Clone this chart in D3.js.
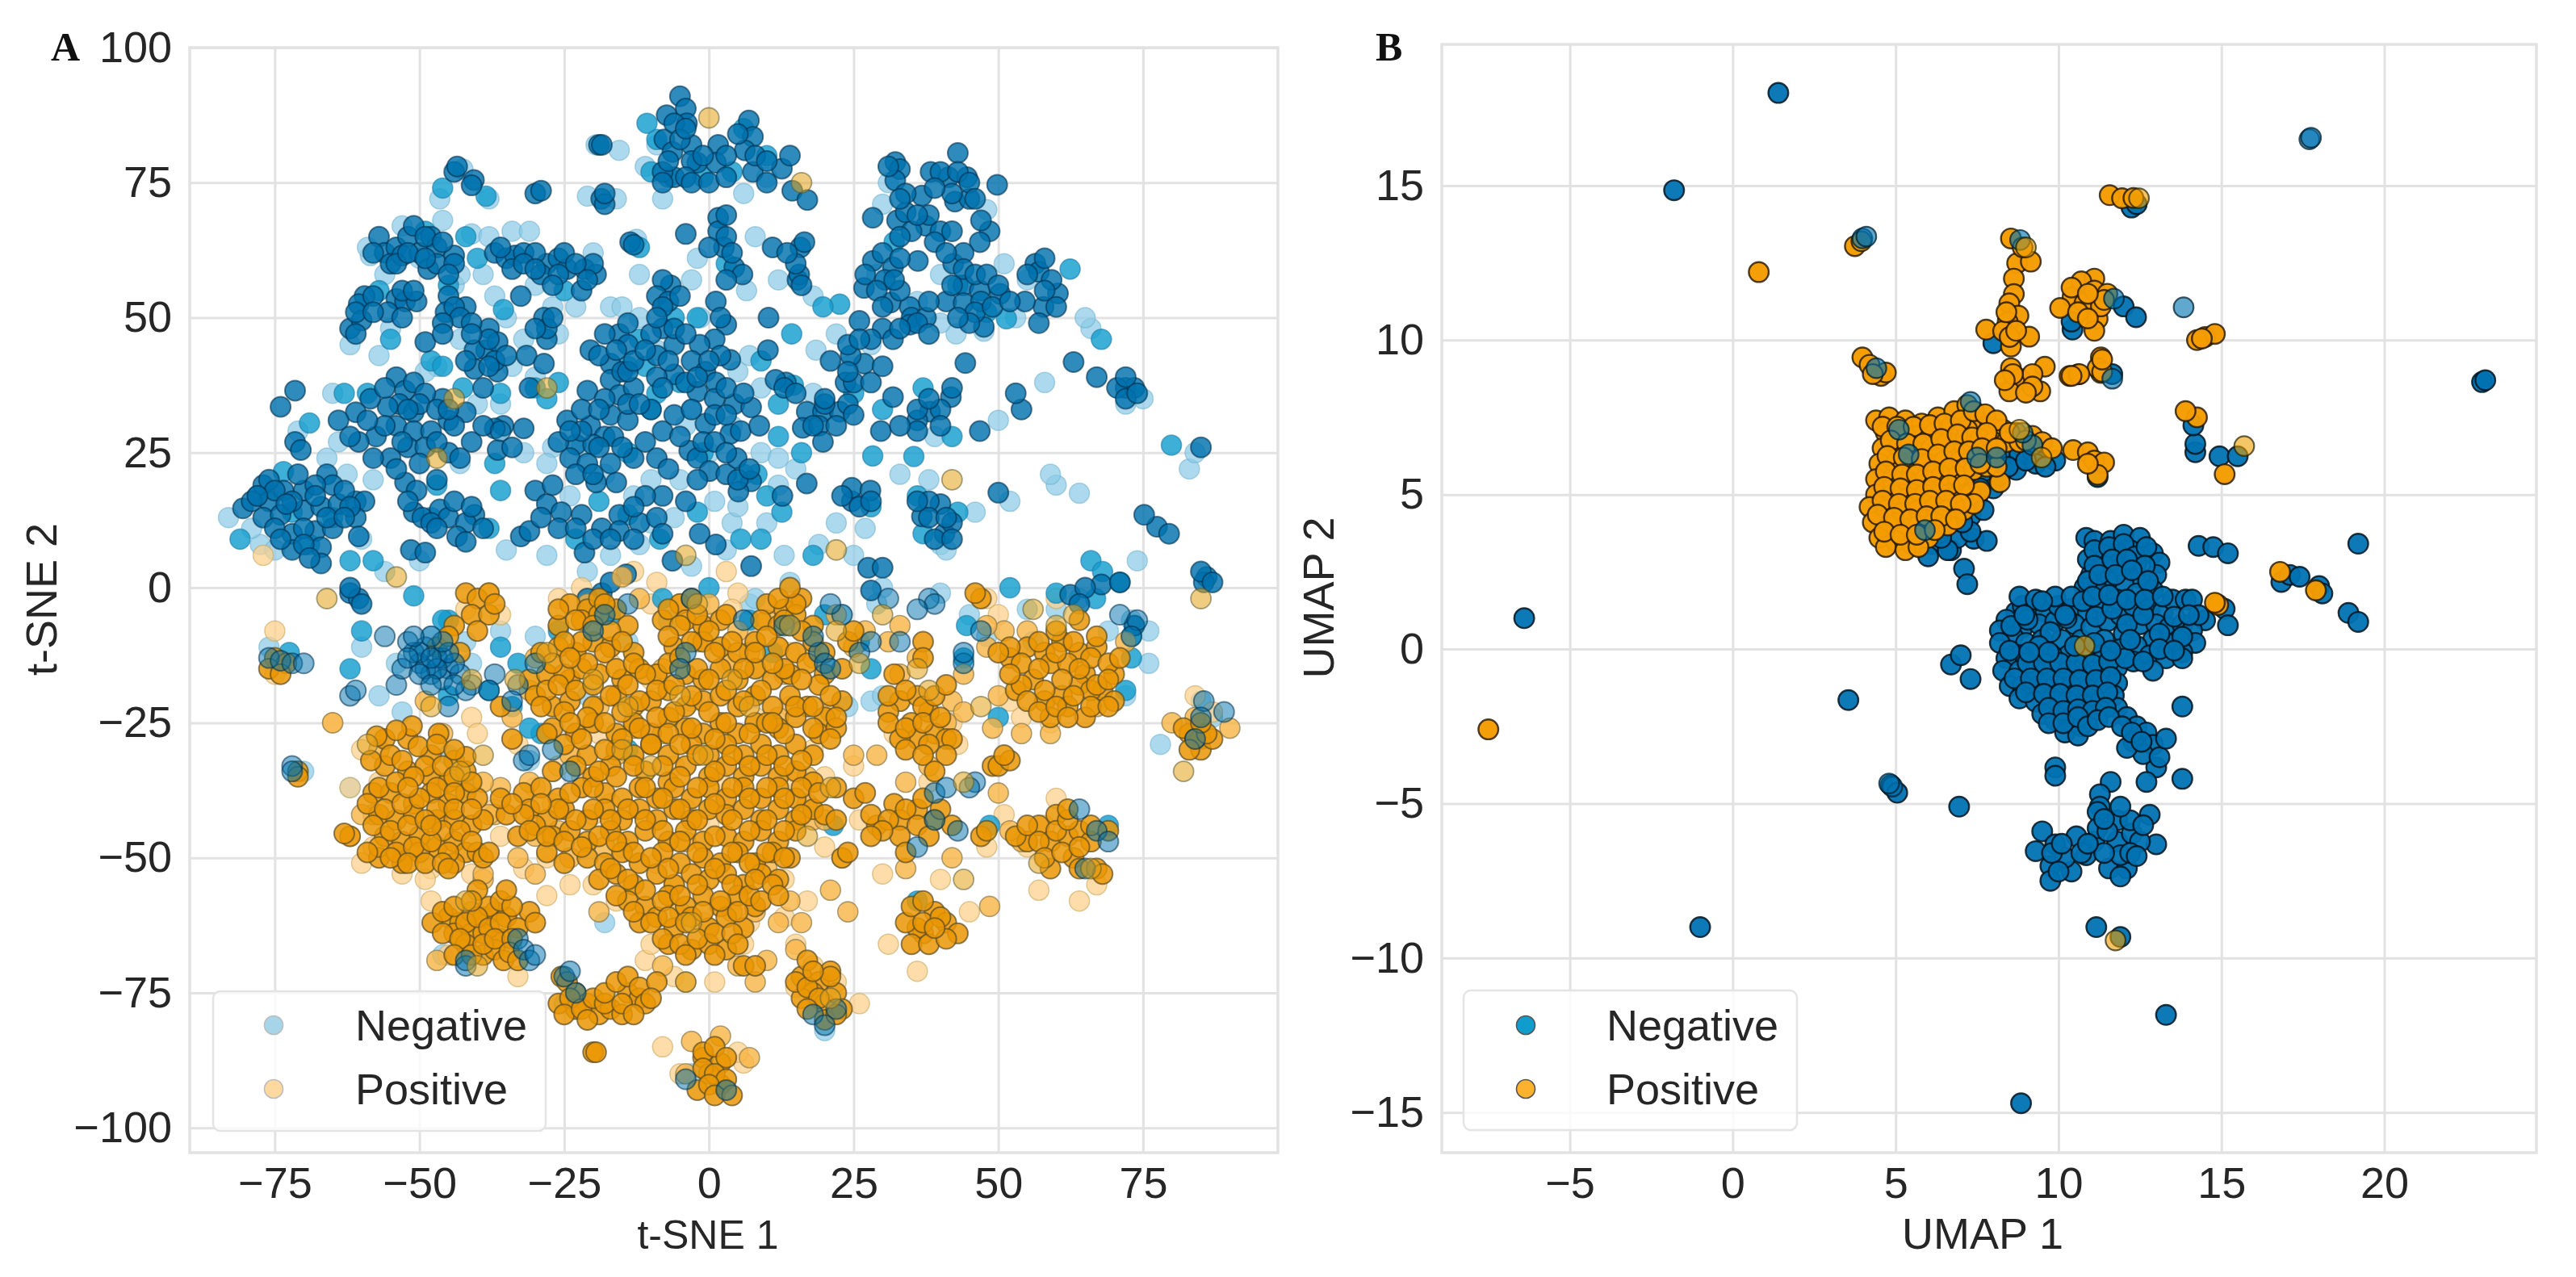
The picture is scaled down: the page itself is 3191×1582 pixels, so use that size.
<!DOCTYPE html>
<html><head><meta charset="utf-8">
<script src="https://cdn.jsdelivr.net/npm/d3@7/dist/d3.min.js"></script>
<style>html,body{margin:0;padding:0;background:#fff}svg{display:block;filter:blur(.7px)}text{fill:#262626}</style>
</head><body><svg id="c" width="3191" height="1582"></svg>
<script>
const seriesLabels=["Negative","Positive"];
const tsneXTicks=[-75,-50,-25,0,25,50,75];
const tsneYTicks=[-100,-75,-50,-25,0,25,50,75,100];
const umapXTicks=[-5,0,5,10,15,20];
const umapYTicks=[-15,-10,-5,0,5,10,15];

const tsneNegFaint=[[-77.5,8],[-62.5,21],[-60,9],[-71,29],[-75,7],[-66,24],[-58,20],[-53,67],[-58.5,61.5],[-47,41],[-57,43],[-43,46],[-44,56],[-37,54],[-35,50],[-39,58],[-41,65.5],[-34,66],[-31,66],[-27,52],[-26,47],[-32,46],[-34,41],[-30,39],[-36,34],[-27,26],[-28,23],[-22,26],[-17,52],[-12,50],[-9,44],[-3,57],[-1.5,50],[6.5,55],[5,40],[7,43],[-3,33],[4,30],[0,25],[9,25],[12,24],[15,22],[12,19],[1,16],[4,12],[-6,13],[-10,12],[-12,8],[-21,3],[-17,6],[22,47],[18.5,44],[24,41],[31,75],[30,71],[29,58],[40,58],[51,60],[42.7,47],[47.5,47.5],[53,50],[66,48],[75,35],[72,34],[60,19],[59,21],[64,17.5],[52,16],[83,22],[84,25],[74,5],[73,-6],[69,-8],[55,-4],[-50,5],[-56,3],[-60,-11],[-42,-10],[-36,-8],[-30,-9],[-26,-7],[-14,-10],[-7,-6],[7,-3],[14,1],[25,6],[30,0],[40,8],[40,-1],[45,-5],[60,-4],[64,-2],[76,-8],[76,-14],[85,-21],[87,-24],[78,-29],[-41,-14],[-48,-9],[-57,-20],[-53,-23],[-45,-31],[-31,-32],[-21,-20],[23,-5],[29,-3],[28,-21],[24,-22],[30,-20],[48,-9],[56,-10],[72,-20],[-62,-37],[-42,-37],[-46,-68],[-34,-67],[-25,-77],[20,-82],[-3,-90],[-54,-14],[-18,-62],[8,-2],[-70,-34],[-76,-11],[-83,13],[-79,11],[-59,63],[-56,58],[-50,61],[-46,68],[-43,58],[-38,65],[-30,56],[-20,62],[-23,52],[-62,45],[-55,48],[-65,36],[-64,27],[-49,40],[-40,34],[-43,23],[-32,25],[-24,17],[-18,21],[-13,17],[-10,20],[-5,20],[-3,4],[3,7],[10,12],[13,6],[19,8],[22,12],[27,11],[33,21],[38,20],[46,14],[41,7],[-8,72],[-9,82],[10,76],[6,73],[-2,61],[8,65],[12,57],[-12,58],[-4,30],[9,37],[18,36],[28,45],[39,28],[50,31],[58,38],[36,53],[40,49],[55,57],[65,50],[48,70],[-15,52],[18,54],[5,15],[-28,6],[-35,7],[-46.5,72],[-42.5,77.5],[-38,72],[-19.5,82],[-15.5,81],[-16,72],[-21,72.5],[-12.5,64.5],[-11,78]];
const tsneNegMid=[[-81,9],[-73.5,21.5],[-62,5],[-58,5],[-69,30.5],[-59,36],[-45,-6],[-51,-1.5],[-48,42],[-42.5,37],[-37,23],[-36,18],[-30,37],[-35.5,51.5],[-40,61],[-42,65],[-49,66],[-45,56],[-25,55],[22.6,52.5],[14.3,47],[62.4,59],[51.4,49.8],[67.8,46],[79.9,26.4],[28.3,24.4],[35.4,24.3],[36,17],[14.6,37.5],[8.3,21],[-1,25],[12.6,14],[18,6],[9,9],[-8.5,9],[-14,13.5],[52,0],[66,5],[68,3],[71,1],[66.8,-2],[60,-1],[-60,-8],[-45,-20],[-72.5,-12],[-34,-22],[-29,-27],[-26,-8],[-17,-5],[-8,-2],[0,0],[7,-6],[20,-5],[28,-15],[26,-10],[44,-13],[50,-24],[73,-13],[73,-9],[72,-19],[44.5,-7],[-46,-6],[-48,13],[-65,13],[-72,14],[-38,11],[-23,9],[19.7,52],[32,64],[43,56],[48,51],[-14,41],[-10,33],[-5,38],[6,21],[-2,14],[5.5,9],[-38,-19],[-33,-14],[-31,-26],[-14,-30],[11,-12],[21.5,-44],[48.5,-44],[69,-44],[36,-58],[-62,-15],[-36,-11],[-46,74],[-38.5,72.5],[-7,76],[-10,77],[-1,76],[4,77],[10,80],[-9,83],[6,85],[3,60],[-12,46],[-11,41],[-2,50],[-6,50],[-9,36],[9,42],[12,34],[25,36],[30,33],[37,37],[42,28],[12,28],[16,25],[10,17],[28,15],[37,10],[43,14],[-69,8],[-78,17],[-55,46],[-57,55],[-46,41],[-63,36],[-47,19],[-36,36],[-26,38],[-28,35],[-14,25],[-19,16],[-10.7,86],[-12,63]];
const tsneNegCore=[[-80.5,14.7],[-77,19],[-76,16],[-77,13],[-74,13.5],[-73.5,18],[-70,18],[-70,14.3],[-66,21],[-65,19],[-68,19],[-67,15],[-64,15.5],[-61,16],[-59.5,16],[-61,13],[-72,10],[-68,10.5],[-72,7],[-67,7.5],[-67,4.5],[-60.5,9.5],[-76,20],[-75,11],[-71,21],[-65,11],[-57,65],[-56,62],[-54,63],[-52,65],[-55,60],[-53,61.5],[-51,67],[-50,62],[-48,65],[-47,63],[-48.5,59],[-47,60],[-44,61.5],[-44,60],[-37,62],[-35,61],[-33.5,61.5],[-32,62],[-28,60],[-26,61],[-24.5,59],[-21.5,59],[-22,55],[-19.5,58],[-20,60],[-59.5,54],[-60.5,52.5],[-58,54],[-62,48],[-60,49.5],[-54,53.5],[-52.5,53],[-55.5,51],[-50.5,53],[-45,54],[-45.5,51],[-42,52],[-44,52],[-49,45.5],[-32.5,54],[-38,48],[-38.5,44],[-36.5,45.5],[-40.5,44],[-38,46],[-40.5,40.5],[-36.5,40],[-39,37],[-28.5,50],[-28,46],[-31.5,43],[-28.5,41.5],[-31,37],[-54,39],[-52.5,36.5],[-53.5,34],[-51,32.5],[-55.5,33.5],[-58.5,35],[-61,32.5],[-64,31],[-57.5,28],[-60.5,27],[-54,30],[-51,29],[-48,29],[-52,26],[-55,24],[-45,25],[-42,32.5],[-45,31],[-46,35],[-41,27],[-36.5,25.5],[-35.5,30],[-37,29.5],[-32,29.5],[-52.5,19.5],[-50.5,18],[-51,14],[-49.5,13],[-46.5,14.5],[-45,13],[-40.5,13.5],[-42,12],[-43.5,9.5],[-42,8.5],[-51.5,7],[-49,6.5],[-62,-1],[-60.5,-2],[-71.5,36.5],[-74,33.5],[-71.5,27],[-70.5,25.5],[-20.5,44],[-17,41.5],[-15.5,47],[-14,45],[-17,38.5],[-15,40],[-21,36.5],[-15.5,35.7],[-13,37],[-24.5,31],[-20.5,30],[-22,33],[-17,32],[-14,31],[-18,28],[-23,26.5],[-20,26.5],[-16.5,28],[-13,24],[-24,24],[-21,23],[-23,21],[-19.5,19.5],[-16,19.5],[-30,18],[-28,15.5],[-25.5,14],[-22,13.5],[-18.5,11],[-15.5,13.5],[-15.5,10.5],[-12,12],[-9,13],[-8,10],[-32.5,9.5],[-31,10.5],[-21.5,6.5],[-14.3,2.5],[-18.5,-1],[-5,91],[-4,88.7],[-7.3,87.5],[-3.8,86],[-7.7,83],[-6.3,80.7],[-3,82],[1.6,82],[6.9,86.5],[7.6,83.5],[6.2,81],[1.2,78.7],[-2,78.7],[-6,76],[-8,77],[7.6,77],[12.6,77.6],[14.4,73.5],[17,71.8],[1.6,68.5],[1.6,66],[2.6,63],[3,65],[4.4,59.3],[5.8,58],[15.8,63],[16.5,64],[15.3,57],[15.6,58],[-4,65.5],[-6.6,56],[-8,57],[-9,54],[-7,53],[-8,48],[-10,47],[-6,45],[-9,43],[1.2,53],[3,48.7],[1,46],[-1.6,45],[-3,42],[-6,39.5],[-0.6,40],[1.2,38],[-2,36.3],[1,35],[3.7,42.2],[10.2,44],[10.3,50],[4.4,34],[7.3,33.4],[-0.6,30.4],[3.7,28.5],[5.5,29],[8.7,30],[-3.4,25.4],[-2,24],[0.1,21.6],[3,21],[4.8,24],[7.3,19.7],[5.1,17.8],[-1.6,10],[1.2,8],[-6.3,5],[7.3,4],[12.7,17],[16.9,19.3],[13.3,38],[11.5,38.5],[21,42],[23.6,38],[26.8,41.5],[24.5,43],[26,49.4],[16.9,32.6],[19.7,32.6],[22.6,32.6],[24,34],[16.2,29.6],[19,30],[19.7,27],[31.8,35.3],[38.2,32.6],[36,31],[41.8,35.3],[40,33],[29.7,29],[46.8,29],[54,33],[53,36],[63,41.8],[67,39],[72,37],[73.5,37],[70.5,37],[24.7,16],[24.7,18.5],[27.9,18],[40,15.5],[36.8,13.2],[40.7,10],[38,16],[42,12],[50,17.6],[77.4,11.3],[79.5,10],[75.2,13.5],[27.5,3.7],[30,3.7],[28,-0.5],[86,2],[85.5,1],[67.8,0.6],[62.4,-1.3],[73.5,-7],[85,26],[32.2,78.8],[33,77.5],[32.2,75.4],[43,80.5],[38.3,77],[41.4,76],[44.6,76],[49.8,74.6],[36.8,72.6],[42.5,71.5],[45,72],[32.5,68],[34,69.5],[28.3,68.5],[37.5,67],[40,66],[38,69],[48.5,66],[46.8,64],[42.2,60],[44,62],[28.3,60.5],[30,62],[31.8,59.3],[30.4,57],[36.1,60.5],[31.4,52.8],[34.7,52],[33,55],[35,50],[44,56],[46.8,55],[50.3,54.4],[41,53],[44,52.7],[47,53],[47.5,48.3],[57.8,52],[60.3,54.5],[54.6,53],[56.4,60],[57,58.5],[59.2,57],[30,48],[31.8,46],[34.7,48.7],[37.5,50],[26.8,55.5],[44.3,41.6],[-10,33],[-8,29],[-6,32],[-11,27],[-9,24],[-7,22],[-4,16],[-8,17],[-11,17],[-13,15],[-14,40],[-9,39],[14,80],[-3,79],[-25,62],[11,63],[-4,76]];
const tsneNegCore2=[[-44,77],[-43.5,78],[-40.6,75.5],[-41,74.5],[-30,73],[-29,73.5],[-19,82],[-18.5,82],[-18.6,72],[-18,71],[-18,73],[-13.6,64],[-13,63.5],[-79,16],[-75,18],[-72,16],[-68,17],[-63,18],[-62,15],[-78,17],[-74,9],[-70,11],[-66,13],[-70,8],[-69,5.5],[-63,13],[-73,15.5],[-58,62],[-54,60],[-52,62],[-49,65],[-46,64],[-49,61],[-45,58],[-36,63],[-34,59],[-30,62],[-29,58],[-26,58],[-23,60],[-21,57],[-61,51],[-58,51],[-61,47],[-53,55],[-53,50],[-51,55],[-43,50],[-46,49],[-41,49],[-46,47],[-37,42],[-41,47],[-35,43],[-38,41],[-42,42],[-28,48],[-30,48],[-27,50],[-56,37],[-51,38],[-49,36],[-50,34],[-47,33],[-56,30],[-59,31],[-52,33],[-62,28],[-58,24],[-53,27],[-49,26],[-47,27],[-54,22],[-50,23],[-47,20],[-43,24],[-44,30],[-45,33],[-39,30],[-34,26],[-52,16],[-48,12],[-44,16],[-47,11],[-39,11],[-41,15],[-19,43],[-18,47],[-16,44],[-14,49],[-13,42],[-18,35],[-14,34],[-19,33],[-12,34],[-22,29],[-19,26],[-15,26],[-26,27],[-24,29],[-20,21],[-17,23],[-27,19],[-29,13],[-26,11],[-23,11],[-20,9],[-17,9],[-13,9],[-21,-2],[-17,1],[-6,86],[-5,83],[-4,85],[-7,79],[-1,80],[3,80],[8,80],[5,84],[10,79],[-8,75],[-3,75],[0,75],[3,76],[10,75],[3,69],[0,63],[4,62],[3,57],[15,60],[13.5,62],[16,56],[-8,52],[-6,48],[-5,54],[-9,50],[-11,44],[-7,42],[-8,37],[-4,38],[-2,39],[-4,47],[2,50],[2,43],[0,42],[3,37],[-3,33],[1,32],[3,32],[6,36],[-5,28],[-1,27],[1,27],[3,25],[5,20],[7,22],[-2,20],[13,37],[15,36],[20,34],[18,30],[22,30],[25,32],[20,35],[25,38],[24,40],[28,38],[24,45],[30,41],[36,33],[38,35],[42,37],[40,30],[36,29],[33,30],[23,17],[26,15],[28,16],[38,13],[41,13],[36,16],[39,9],[42,9],[31,78],[34,73],[33,72],[40,77],[43,77],[42,73],[45,75],[39,74],[46,72],[35,66],[39,64],[33,65],[42,66],[36,69],[47,68],[44,59],[46,58],[41,62],[27,58],[29,55],[32,57],[33,61],[30,52],[36,49],[33,48],[38,53],[38,47],[42,56],[48,58],[50,56],[46,51],[49,52],[45,49],[43,50],[52,53],[55,58],[58,61],[58,55],[60,52],[57,49],[28,46],[26,46],[-32,60],[-30,59],[-27,56],[72,39],[72,35],[74,36],[85,3],[87,1],[65,0],[64,-3],[71,1],[-62,0],[-60,-3]];
const tsnePosFaint=[[-77,6],[-75,-8],[-62,-46],[-65,-25],[-58,-48],[-36,-46],[-37,-41],[-32,-52],[-28,-57],[-33,-29],[-24,-31],[-19,-27],[-27,-40],[-16,-58],[-24,-55],[-11,-69],[-6,-72],[1,-73],[6,-66],[7,-62],[13,-54],[17,-58],[15,-66],[-1,-62],[-5,-3],[-9,1],[-13,3],[-22,0],[3,3],[5,-1],[-1,-6],[4,-4],[-26,-2],[7,-9],[12,-11],[3,-14],[18,-30],[20,-35],[14,-22],[15,-36],[-17,-14],[-10,-17],[-3,-21],[-20,-42],[-15,-48],[-6,-55],[-45,-68],[-46,-60],[-42,-65],[-48,-58],[-33,-72],[-33,-62],[-48,-52],[-41,-24],[-40,-27],[-60,-30],[-57,-36],[-23,-78],[-8,-85],[-5,-90],[6,-88],[5,-86],[18,-70],[22,-73],[26,-77],[15,-74],[45,-60],[40,-54],[36,-71],[31,-66],[25,-33],[32,-27],[38,-36],[43,-29],[42,-25],[23,-50],[48,-48],[51,-42],[54,-24],[52,-21],[59,-25],[67,-21],[48,-2],[50,-5],[60,-2],[-38,-1],[-42,-4],[-36,-5],[55,-48],[58,-44],[60,-39],[66,-52],[64,-58],[57,-56],[67,-55],[84,-20],[87,-23],[-75,-16],[30,-53],[26,-43],[-62,-37],[-26,-33],[-4,-41],[2,-28],[8,-24],[-13,-32],[-22,-35],[-60,-51],[-53,-53],[-41,-53],[-49,-54],[-30,-37],[-20,-55],[-10,-66],[13,-61],[20,-48],[-28,-50],[-10,-3],[14,-12],[9,-15],[-6,-33],[2,-36],[-17,-40],[-9,-51],[0,-44]];
const tsnePosMid=[[-65,-25],[-58,-42],[-46,-27],[-49,-21],[-34,-24],[-31,-19],[-19,-60],[-33,-50],[-30,-53],[-39,-54],[-47,-69],[-39,-53],[-4,-47],[5,-70],[8,-73],[10,-69],[15,-67],[-4,-73],[-8,-70],[31,-10],[33,-7],[25,-11],[22,-5],[27,-8],[33,-16],[36,-13],[42,-21],[44,-23],[18,-43],[20,-43],[29,-31],[38,-33],[41,-25],[25,-31],[48,-11],[51,-8],[50,-20],[49,-26],[54,-27],[59,-27],[67,-22],[48.5,-59],[50,-38],[54,-47],[52,-45],[42,-50],[24,-60],[21,-56],[16,-62],[14,-58],[12,-62],[-12,-2],[-15,2],[-21,-3],[0,-3],[10,-6],[7,-12],[5,-8],[13,-16],[12,-24],[-8,-15],[-13,-26],[-18,-48],[-30,-46],[-26,-45],[-24,-50],[-37,-42],[-36,-37],[2,-83],[-3,-84],[7,-87],[-4,-90],[84,-24],[90,-26],[80,-25],[-53,-50],[-57,-30],[-60,-42],[-38,-42],[-39,-36],[-31,-36],[-24,-31],[-16,-31],[-2,-10],[4,-14],[-8,-27],[-19,-22],[-30,-13],[18,-13],[21,-23],[17,-35],[17,-40],[-5,-60],[4,-60],[8,-60],[10,-52],[34,-52],[34,-36],[44,-16],[48,-7],[72,-10],[55,-8]];
const tsnePosCore=[[-62,-46],[-63,-45.5],[-51.3,-25.6],[-54,-26.4],[-57.4,-27.5],[-46.7,-27],[-50.2,-29.4],[-58.4,-32],[-42,-31.3],[-55,-31],[-53,-32],[-49,-33],[-46,-33],[-44,-35],[-57,-37],[-54,-36],[-51,-35],[-47,-37],[-44,-38],[-41,-36],[-59,-40],[-56,-41],[-53,-40],[-50,-39],[-47,-41],[-44,-41],[-41,-41],[-58,-44],[-55,-45],[-52,-44],[-49,-43],[-46,-45],[-43,-45],[-57,-48],[-54,-49],[-51,-48],[-48,-47],[-45,-49],[-59,-49],[-55,-50],[-52,-51],[-49,-51],[-46,-51],[-45,-52],[-41,-47],[-39,-50],[-38,-49],[-36,-39],[-47,-29],[-44,-30],[-52,-37],[-48,-44],[-47.8,-62],[-46,-60],[-44,-59],[-42,-62],[-40,-56],[-38,-59],[-36,-58],[-34,-59],[-46,-64],[-43,-65],[-40,-61],[-38,-63],[-36,-62],[-33,-63],[-44,-68],[-41,-68],[-39,-66],[-37,-65],[-30,-62],[-34,-65],[-41,-58],[-35,-56],[-35.5,-69],[-34.5,-67.5],[-33,-69],[-25.5,-72],[-24.5,-73],[-26,-77],[-24,-76],[-25,-79],[-22,-78],[-20,-76],[-18,-77],[-15,-77],[-18,-75],[-16,-73],[-14,-72],[-12,-74],[-11,-77],[-13,-79],[-9,-73],[-10,-76],[-21,-80],[-20,-86],[-19.5,-86],[-42,-1],[-40,-2],[-38,-1],[-41,-5],[-38,-5],[-40,-8],[-37,-3],[-75,-13],[-73,-14],[-76,-15],[-74,-16],[-71,-34],[-71,-35],[-47,-11],[-44,-7],[-45,-9],[-43,-12],[-36,-22],[-34,-28],[-28,-27],[-25,-16],[-28,-19],[-22,-10],[-18,-3],[-26,-4],[-23,-6],[-20,-7],[-17,-8],[-25,-10],[-21,-14],[-18,-12],[-15,-10],[-27,-14],[-24,-13],[-16,-15],[-13,-14],[-26,-18],[-23,-19],[-20,-18],[-17,-20],[-14,-18],[-11,-16],[-29,-22],[-25,-23],[-21,-24],[-18,-25],[-15,-23],[-12,-21],[-9,-19],[-22,-28],[-18,-30],[-15,-28],[-12,-26],[-9,-24],[-24,-38],[-20,-37],[-16,-35],[-13,-33],[-10,-29],[-7,-27],[-7,-4],[-5,-7],[-2,-5],[-7,-9],[-3,-10],[0,-8],[-5,-13],[-2,-15],[1,-12],[4,-10],[-6,-18],[-3,-20],[0,-17],[3,-19],[6,-15],[-6,-23],[-3,-26],[0,-23],[3,-25],[6,-21],[9,-19],[-5,-29],[-2,-31],[1,-28],[4,-31],[7,-27],[10,-25],[13,-27],[-8,-33],[-5,-35],[-2,-37],[1,-34],[4,-37],[7,-33],[10,-31],[13,-33],[16,-32],[-11,-37],[-8,-39],[-5,-41],[-2,-43],[1,-40],[4,-43],[7,-39],[10,-37],[13,-39],[16,-37],[-14,-41],[-11,-43],[-8,-45],[-5,-47],[-2,-49],[1,-46],[4,-49],[7,-45],[10,-43],[13,-45],[16,-42],[-17,-43],[-20,-41],[-23,-43],[-26,-41],[-29,-40],[-32,-42],[-34,-40],[-31,-45],[-28,-46],[-25,-47],[-22,-48],[-19,-46],[-16,-47],[-13,-49],[-10,-50],[-7,-52],[-17,-52],[-14,-54],[-11,-56],[-8,-58],[-5,-57],[-2,-55],[1,-52],[4,-55],[7,-51],[10,-49],[13,-50],[-16,-57],[-13,-60],[-10,-62],[-7,-61],[-4,-62],[-1,-60],[2,-58],[5,-60],[7,-57],[8,-54],[11,-55],[-8,-65],[-5,-66],[-2,-65],[1,-64],[4,-64],[-4,-68],[1,-68],[5,-66],[6,-70],[9,-58],[8,-70],[12,-57],[11,-25],[15,-22],[18,-22],[19,-18],[16,-17],[13,-15],[21,-20],[22,-24],[18,-26],[21,-28],[16,-8],[13,-6],[15,-3],[10,-9],[8,-12],[11,-14],[12,-2],[14,0],[3,-5],[-24,-25],[-19,-34],[24,-10],[25,-8],[25,-39],[27,-38],[19,-38],[22,-37],[20,-42],[22,-43],[23,-50],[24,-49],[28,-42],[31,-43],[34,-41],[37,-39],[40,-41],[36,-44],[33,-46],[30,-45],[38,-46],[42,-44],[28,-46],[34,-49],[35,-59],[37,-58],[37,-62],[40,-61],[43,-64],[35,-66],[38,-66],[41,-65],[39,-63],[32,-16],[31,-20],[34,-19],[37,-22],[39,-20],[41,-18],[31,-25],[34,-26],[37,-25],[40,-24],[42,-28],[34,-30],[37,-31],[41,-31],[39,-34],[37,-10],[37,-13],[47,-2],[46,-1],[52,-11],[50,-12],[54,-14],[57,-10],[60,-8],[64,-6],[67,-9],[54,-18],[57,-15],[60,-12],[63,-10],[66,-13],[69,-14],[71,-13],[52,-16],[55,-21],[58,-19],[61,-17],[64,-15],[67,-18],[69,-17],[57,-23],[60,-22],[63,-20],[66,-22],[62,-24],[70,-21],[69,-22],[49,-33],[50,-33],[52,-32],[51,-31],[47,-46],[48,-45],[53,-46],[55,-44],[57,-47],[60,-45],[62,-43],[58,-50],[61,-49],[64,-48],[66,-44],[62,-41],[64,-52],[67,-52],[68,-53],[69,-45],[82,-26],[84,-28],[86,-27],[83,-30],[85,-25],[-1,-86],[1,-85],[3,-87],[-1,-89],[1,-90],[3,-91],[-2,-93],[0,-92],[1,-94],[4,-94],[15,-73],[17,-74],[19,-76],[21,-71],[21,-72],[17,-78],[20,-80],[23,-78],[22,-79],[17,-69],[18,-71]];
const tsnePosCore2=[[-24,-3],[-21,-4],[-19,-2],[-16,-4],[-5,-3],[-3,-2],[10,-3],[13,-4],[16,-2],[-26,-7],[-22,-6],[-19,-5],[-14,-7],[-8,-6],[-4,-6],[-1,-7],[2,-6],[9,-6],[12,-7],[15,-5],[18,-7],[-29,-12],[-26,-11],[-23,-12],[-20,-10],[-17,-11],[-13,-12],[-6,-11],[-1,-10],[2,-11],[5,-12],[8,-10],[12,-11],[15,-12],[18,-10],[20,-12],[-31,-17],[-28,-16],[-24,-17],[-22,-15],[-19,-16],[-15,-17],[-12,-15],[-9,-16],[-7,-14],[-4,-16],[-1,-17],[2,-15],[5,-17],[8,-15],[11,-17],[14,-16],[17,-14],[20,-16],[23,-15],[-30,-20],[-27,-22],[-24,-21],[-20,-22],[-16,-20],[-13,-22],[-10,-21],[-7,-19],[-4,-22],[-1,-21],[2,-20],[5,-22],[8,-20],[11,-22],[14,-20],[17,-22],[20,-24],[23,-21],[-27,-26],[-23,-27],[-20,-25],[-16,-27],[-13,-25],[-10,-27],[-7,-24],[-4,-26],[-1,-27],[2,-25],[5,-27],[8,-25],[12,-26],[15,-24],[19,-27],[22,-26],[-25,-29],[-21,-31],[-16,-30],[-13,-31],[-10,-29],[-7,-31],[-3,-29],[0,-31],[3,-29],[6,-31],[9,-29],[12,-31],[15,-29],[18,-31],[-27,-34],[-23,-33],[-20,-35],[-17,-33],[-11,-34],[-7,-36],[-4,-33],[0,-35],[3,-33],[6,-35],[9,-33],[12,-35],[15,-34],[-32,-38],[-29,-37],[-26,-39],[-22,-37],[-18,-38],[-15,-39],[-12,-37],[-9,-39],[-6,-37],[-3,-39],[0,-37],[3,-39],[6,-37],[9,-39],[12,-37],[15,-39],[18,-36],[-35,-42],[-31,-41],[-28,-43],[-25,-41],[-21,-43],[-18,-41],[-15,-43],[-12,-41],[-9,-43],[-6,-41],[-3,-43],[0,-41],[3,-42],[6,-41],[9,-43],[12,-41],[15,-43],[18,-41],[-33,-46],[-30,-44],[-27,-46],[-24,-45],[-21,-47],[-17,-45],[-14,-47],[-11,-45],[-7,-47],[-4,-45],[-1,-47],[3,-46],[6,-47],[9,-45],[12,-47],[15,-45],[-28,-49],[-25,-51],[-21,-50],[-18,-51],[-15,-49],[-12,-51],[-8,-49],[-5,-51],[-1,-50],[2,-51],[5,-49],[8,-51],[11,-49],[14,-50],[-19,-54],[-16,-53],[-13,-55],[-9,-53],[-6,-55],[-3,-53],[0,-54],[3,-53],[6,-55],[9,-53],[12,-54],[-14,-58],[-11,-59],[-7,-57],[-4,-59],[-1,-57],[2,-59],[5,-57],[8,-59],[-12,-62],[-9,-61],[-6,-63],[-3,-61],[0,-63],[3,-61],[6,-63],[-7,-66],[-3,-67],[0,-66],[3,-67],[-56,-28],[-52,-28],[-48,-31],[-44,-32],[-56,-33],[-52,-34],[-48,-35],[-45,-36],[-42,-34],[-58,-38],[-55,-38],[-51,-40],[-48,-38],[-45,-40],[-42,-38],[-40,-39],[-57,-42],[-54,-43],[-51,-42],[-47,-43],[-44,-43],[-41,-44],[-39,-43],[-56,-46],[-53,-47],[-50,-46],[-47,-48],[-44,-47],[-42,-49],[-57,-50],[-53,-51],[-50,-49],[-44,-51],[-40,-49],[-45,-61],[-43,-62],[-41,-60],[-39,-61],[-37,-60],[-35,-61],[-44,-64],[-41,-64],[-39,-64],[-36,-65],[-42,-66],[-39,-68],[-37,-67],[-31,-60],[-23,-75],[-21,-77],[-19,-79],[-17,-78],[-14,-75],[-12,-76],[-15,-79],[-23,-78],[52,-13],[55,-11],[58,-12],[61,-10],[64,-12],[67,-11],[70,-16],[53,-19],[56,-17],[59,-14],[62,-14],[65,-16],[68,-19],[58,-21],[61,-20],[64,-18],[66,-19],[59,-24],[62,-22],[65,-24],[33,-21],[36,-20],[38,-23],[35,-25],[39,-27],[36,-28],[33,-28],[41,-28],[38,-29],[31,-23],[36,-41],[32,-40],[29,-44],[39,-43],[33,-43],[55,-47],[57,-44],[59,-47],[62,-46],[64,-45],[66,-47],[60,-42],[59,-52],[63,-50],[37,-64],[36,-63],[39,-60],[41,-62],[34,-62],[-1,-87],[2,-88],[0,-90],[2,-92],[16,-72],[19,-73],[18,-75],[20,-77],[16,-76],[22,-75],[85,-28],[83,-27],[85,-30],[87,-28]];
const tsnePosTop=[[-54,2],[-66,-2],[-39,-31],[-43,-34],[-48,-22],[-33.5,-17],[-41,-17],[-28,-12],[-5,-20],[-20,-17],[-14,-22],[-1,-31],[17,-46],[21,-37],[-4,-73],[26,-14],[30,-5],[22,-8],[22,7],[-4,6],[-2,-3],[44,-36],[47,-22],[56,-4],[60,-7],[63,-5],[85,-2],[16,75],[0,87],[42,20],[-28,37],[-44,35],[-47,24],[-42,-58],[36,-15],[38,-19],[-3,-62],[44,-54],[57,-51],[66,-52],[21,-76],[82,-34],[4,-17],[-59,-29],[-40,-70],[14,-7],[-10,-33],[7,-22],[-15,-30]];
const tsneNegTop=[[36,-48],[39,-43],[39,-38],[41,-37],[46,-36],[45,-37],[65,-52],[67,-45],[69,-47],[85.5,-21],[85,-24],[89,-23],[84,-28],[47,-8],[38,-2],[39,-3],[-36,29],[-33,-18],[-42,-70],[-41,-18],[-76,-13],[-74,-13.5],[-72,-14],[-70,-14],[-72,-33],[-72,-34],[-42,-69],[-30,-14],[3,-93],[-4,-91],[18,-79],[22,-78],[20,-81],[28,-10],[26,-12],[23,-5],[21,-3],[6,-6],[13,-7],[-25,-72],[-24,-71],[-23,-75],[43,-45],[64,-41],[-4,-12],[-14,-3],[-3,-2],[-37,-16],[-33,-65],[-32,-67],[-31,-69],[-30,-68],[-45,-15],[-38,-19],[-46,-13],[-50,-14],[-48,-16],[-47,-13],[-46,-17],[-49,-11],[-51,-12],[-52,-10],[-43,-16],[-42,-19],[-54,-18],[-53,-15],[-45,-22],[-56,-9],[-44,-14],[-62,-20],[-61,-19],[-34,-21],[-32,-32],[-31,-31],[-24,-34],[-27,-30],[-20,-8],[-18,-5],[-5,-15],[19,-12],[20,-14],[18,-9],[21,-15],[14,-7],[33,-10],[36,-4],[44,-14],[44,-12],[31,-2],[71,-5],[74,-6],[73,-9],[-49,-15],[-50,-12],[-47,-15],[-45,-12],[-48,-13],[-52,-13],[-44,-18],[-50,-16],[-46,-10],[-48,-9],[-51,-9],[-48,-18]];

const umapNegative=[[-6.4,1],[-1.8,14.85],[1.4,18],[3.55,-1.65],[-1,-9],[4.85,-4.4],[5.05,-4.65],[6.95,-5.1],[8.85,-14.7],[6.7,3.2],[7.4,3.57],[7.8,3.5],[7.1,2.6],[7.2,2.1],[6.7,-0.5],[7,-0.2],[7.3,-0.97],[13.8,-1.86],[9.9,-3.83],[9.9,-4.1],[11.6,-4.3],[11.27,-4.7],[11.27,-5.1],[13,-3.83],[12.7,-4.3],[13.8,-4.2],[19.2,3.41],[14.3,3.34],[14.75,3.3],[15.2,3.1],[15.1,1.3],[15.2,0.77],[14.5,0.93],[16.84,2.17],[17.1,2.4],[17.4,2.34],[18,2.04],[18.1,1.8],[18.9,1.17],[19.2,0.88],[23,8.64],[23.1,8.7],[14.2,6.37],[14.2,6.64],[14.94,6.24],[15.5,6.24],[11.2,5.57],[14.14,7.24],[12.24,14.29],[12.4,14.4],[8,9.9],[10.43,10.34],[10.4,10.6],[12,11.09],[12.38,10.74],[11.65,8.9],[9.5,-5.9],[9.3,-6.54],[9.9,-6.32],[9.75,-7.02],[9.75,-7.5],[10.4,-7.2],[10.2,-6.75],[10.55,-6.06],[11.1,-6.23],[10.85,-6.67],[11.2,-5.27],[11.55,-7.1],[12.1,-7.1],[11.9,-7.36],[11.8,-6.23],[11.8,-5.54],[12.25,-5.97],[12.8,-5.36],[13,-6.32],[12.5,-6.23],[12.2,-5.54],[11.9,-6.67],[11.2,-5.8],[11.16,-9],[11.9,-9.32],[13.3,-11.84],[8.7,1.2],[8.4,0.95],[8.9,0.7],[8.2,0.6],[9.2,1.3],[9.6,1.2],[9.4,0.8],[8.9,1.4],[8.6,0.4],[8.2,0.2],[9,0.2],[9.5,0.3],[9.9,0.9],[10,1.4],[10.4,1.3],[10.9,1.2],[11.3,1.5],[10.5,0.8],[10.1,0.3],[10.7,0.3],[11,0.7],[11.5,0.9],[11.9,1.1],[12.3,1.4],[12.8,1.3],[13.2,1.2],[12.5,0.8],[12,0.5],[11.4,0.3],[13,0.8],[13.4,0.7],[13.8,0.8],[14.1,0.6],[14.2,0.2],[13.7,0.3],[13.3,0.2],[12.9,0.3],[12.4,0.1],[11.9,0],[11.3,-0.2],[10.8,-0.2],[10.3,-0.2],[9.8,-0.2],[9.3,-0.2],[8.8,-0.2],[8.4,-0.3],[8.3,-0.7],[8.8,-0.7],[9.3,-0.7],[9.8,-0.7],[10.3,-0.7],[10.8,-0.8],[11.3,-0.7],[11.8,-0.6],[12.3,-0.4],[12.8,-0.2],[13.3,-0.3],[13.8,-0.1],[12.9,-0.7],[8.5,-1.2],[8.9,-1.2],[9.4,-1.2],[9.9,-1.2],[10.4,-1.2],[10.9,-1.3],[11.4,-1.2],[11.8,-1.1],[8.8,-1.6],[9.3,-1.7],[9.8,-1.6],[10.3,-1.7],[10.8,-1.8],[11.3,-1.7],[11.7,-1.5],[9.5,-2.1],[9.9,-2.3],[10.4,-2.2],[10.8,-2.1],[11.8,-1.9],[12.1,-2.2],[10.2,-2.7],[10.7,-2.5],[12.4,-2.5],[12.7,-2.7],[12.3,-3],[12.9,-3.1],[12.6,-3.4],[13.1,-3.5],[12.1,-3.2],[13.3,-2.9],[10.85,3.6],[11.1,3.5],[11.6,3.5],[12,3.7],[12.5,3.6],[12.2,3.2],[11.8,3.1],[11.3,3.1],[10.9,2.9],[11.4,2.7],[11.9,2.6],[12.4,2.8],[12.9,3.1],[13.1,2.8],[13,2.4],[12.5,2.3],[12,2.1],[11.5,2.2],[11,2.4],[10.8,2],[11.2,1.9],[11.8,1.6],[12.4,1.8],[12.9,1.9],[13.5,1.6],[13.9,1.6],[14.1,1.6],[8.8,1.7],[9.3,1.6],[9.9,1.7],[10.4,1.7],[13.8,-0.3],[10.6,-2.8],[6.8,5.3],[6.5,5.1],[7.1,5.2],[7.4,5.5],[7.8,5.6],[8,5.2],[7.5,4.9],[7,4.7],[7.3,4.3],[7.7,4.5],[6.5,3.9],[6.9,3.6],[7.3,3.8],[6.1,3.4],[6,3],[6.6,3.2],[8.1,6.1],[8.4,6.2],[8.8,6.3],[9.2,6.4],[9.5,6.2],[9.9,6.1],[9.3,6],[8.7,5.8],[8.2,5.6],[13.8,0.4],[14.3,1.1],[8.55,0.75],[9.05,0.95],[9.75,0.55],[10.25,1],[10.75,1.55],[11.15,1.05],[11.65,1.3],[12.1,0.8],[12.6,1.1],[13.1,0.5],[13.55,1.05],[14,1.1],[8.5,-0.05],[9.05,-0.45],[9.55,-0.45],[10.05,-0.45],[10.55,-0.45],[11.05,-0.5],[11.55,-0.4],[12.05,-0.3],[12.6,-0.4],[13.1,0],[13.55,-0.05],[8.65,-0.95],[9.15,-0.95],[9.65,-0.95],[10.15,-0.95],[10.65,-1],[11.15,-1],[11.6,-0.9],[9,-1.4],[9.55,-1.45],[10.05,-1.45],[10.55,-1.5],[11.05,-1.5],[11.5,-1.4],[9.7,-1.9],[10.15,-2],[10.6,-1.95],[11.05,-2],[11.45,-1.9],[9.7,-2.4],[10.15,-2.4],[10.6,-2.2],[10.9,-2.5],[11.2,-2.3],[11.55,-2.2],[11.95,-2.5],[12.25,-2.7],[12.55,-3],[11.1,3.2],[11.55,3.3],[12,3.4],[12.35,3],[12.7,3.3],[11.1,2.7],[11.65,2.9],[12.1,2.9],[12.65,2.7],[10.9,2.2],[11.25,2.4],[11.75,2.4],[12.25,2.55],[12.75,2.2],[11.05,1.7],[11.55,1.75],[12.1,1.6],[12.65,1.6],[13.2,1.7],[8.95,1.1],[9.5,1.55],[10.2,1.1],[9.4,0.1],[9.7,-0.1],[10.5,0.1],[9.1,-0.1],[11.1,0.2],[11.6,-0.05],[12.2,0.3],[7,5.6],[7.4,5.9],[7.8,6],[8.45,5.9],[9,6.1],[9.6,5.9],[7.2,4.9],[7.6,5.2],[6.7,4.3],[7.05,4.1],[6.4,3.6],[9.8,-6.6],[10.1,-6.3],[10,-7.2],[10.7,-6.6],[11.4,-6.6],[12.2,-6.6],[12.6,-5.7],[12.4,-6.7],[11.5,-5.9],[11.4,-5.5],[11.9,-5.1],[10.9,-6.3]];
const umapPositive=[[0.8,12.2],[-7.5,-2.6],[3.75,13.04],[3.95,13.2],[11.57,14.69],[11.95,14.59],[12.3,14.6],[8.54,13.29],[8.73,12.49],[9.15,12.54],[8.63,11.99],[8.63,11.49],[8.49,11.19],[8.77,10.79],[8.44,10.59],[7.78,10.34],[8.3,10.29],[8.54,9.79],[9.1,10.11],[8.5,10.1],[8.9,13],[10.43,11.39],[11.1,11.99],[10.7,11.9],[10.05,11.04],[10.8,11.2],[11.2,10.69],[11.3,11.09],[11.1,11.6],[11.5,11.5],[10.6,10.9],[11.1,10.3],[10.4,11.7],[8.54,9.09],[9.58,9.14],[8.82,8.74],[9.2,8.9],[8.49,8.34],[9.44,8.34],[9.2,8.5],[8.6,8.9],[10.34,8.84],[10.6,8.89],[11.3,9.44],[11.3,8.94],[11.2,9.1],[3.98,9.44],[4.2,9.2],[4.55,8.84],[4.7,8.95],[4.3,8.9],[14.5,10.1],[14.25,10],[14.8,10.2],[14.4,10.05],[14.25,7.5],[13.9,7.7],[10.64,8.9],[10.4,8.84],[11.34,8.97],[11.34,9.37],[10.45,6.44],[10.9,6.37],[11.1,6.1],[11.4,6.04],[11.2,5.64],[10.9,6],[15.1,5.66],[14.9,1.43],[14.8,1.5],[16.8,2.5],[17.9,1.9],[4.4,7.4],[4.8,7.5],[5.3,7.4],[5.8,7.3],[6.3,7.5],[6.8,7.7],[7.2,7.9],[7.5,7.4],[7.9,7.2],[8.3,7.1],[8.7,7],[9.2,6.9],[9.5,6.7],[9.8,6.5],[4.7,7],[5.2,6.9],[5.7,6.9],[6.2,7],[6.7,7.2],[7.2,7.1],[4.6,6.5],[5.1,6.5],[5.6,6.4],[6.1,6.5],[6.6,6.7],[7.1,6.6],[7.6,6.8],[8,6.7],[8.4,6.7],[8.8,6.7],[4.5,6],[5,6],[5.5,5.9],[6,6],[6.5,6.1],[7,6.1],[7.4,6.2],[7.8,6.3],[4.4,5.5],[4.9,5.5],[5.4,5.4],[5.9,5.5],[6.4,5.6],[6.9,5.6],[7.4,5.8],[7.8,5.9],[8.2,5.4],[4.4,5],[4.9,5],[5.4,4.9],[5.9,5],[6.4,5],[6.8,4.9],[7.3,5],[7.6,5.1],[8.1,5.9],[4.2,4.6],[4.7,4.5],[5.2,4.4],[5.7,4.5],[6.2,4.6],[6.6,4.5],[7.1,4.5],[7.4,4.7],[4.3,4.1],[4.8,4],[5.3,3.9],[5.7,4],[6.2,4.1],[6.6,4],[4.5,3.6],[5,3.5],[5.5,3.4],[6,3.6],[4.7,3.3],[5.3,3.2],[5.7,3.3],[5.3,6.9],[4.6,7.2],[5.05,7.2],[5.55,7.2],[6.05,7.25],[6.5,7.3],[7,7.4],[7.4,7.7],[7.75,7.6],[8.1,7.4],[8.5,7],[9,6.75],[4.85,6.75],[5.35,6.65],[5.85,6.65],[6.4,6.8],[6.9,6.95],[7.35,6.85],[7.8,7],[4.75,6.25],[5.25,6.2],[5.8,6.15],[6.3,6.3],[6.8,6.4],[7.25,6.4],[7.65,6.5],[8.1,6.5],[4.7,5.75],[5.2,5.65],[5.65,5.65],[6.15,5.75],[6.65,5.85],[7.15,5.85],[7.6,6],[4.65,5.25],[5.15,5.2],[5.65,5.15],[6.15,5.25],[6.65,5.3],[7.1,5.3],[4.6,4.8],[5.1,4.7],[5.6,4.7],[6.05,4.8],[6.55,4.8],[7,4.7],[4.45,4.35],[4.95,4.25],[5.45,4.2],[5.95,4.3],[6.4,4.3],[6.85,4.2],[4.65,3.8],[5.15,3.7],[5.65,3.7],[6.2,3.85],[11.4,11.3],[10.9,11.5],[10.9,10.7],[8.7,10.3],[8.4,10.9],[8.35,8.7],[9,8.3]];
const umapNegativeTop=[[3.98,13.29],[4.1,13.35],[17.7,16.5],[17.75,16.55],[8.82,13.24],[4.41,9.09],[5.1,7.1],[5.4,6.3],[5.9,3.85],[7.5,6.2],[8.1,6.2],[9.2,6.6],[8.9,7],[7.3,8],[13.84,11.06],[11.7,11.34],[11.65,8.75],[4.9,-4.45],[4.8,-4.35]];
const umapPositiveTop=[[12.47,14.59],[9,13],[9.48,6.2],[15.7,6.57],[11.75,-9.43],[10.8,0.1],[8.8,7.1]];

const svg=d3.select("#c");
const grid="#e2e2e2";

function panel(o){
  const x=d3.scaleLinear().domain(o.xDomain).range([o.left,o.right]);
  const y=d3.scaleLinear().domain(o.yDomain).range([o.bottom,o.top]);
  const g=svg.append("g");
  g.append("rect").attr("x",o.left).attr("y",o.top).attr("width",o.right-o.left).attr("height",o.bottom-o.top).attr("fill","#fff").attr("stroke",grid).attr("stroke-width",3.5);
  const ax=g.append("g").attr("transform",`translate(0,${o.bottom})`).call(d3.axisBottom(x).tickValues(o.xTicks).tickSize(-(o.bottom-o.top)).tickPadding(18));
  const ay=g.append("g").attr("transform",`translate(${o.left},0)`).call(d3.axisLeft(y).tickValues(o.yTicks).tickSize(-(o.right-o.left)).tickPadding(22));
  [ax,ay].forEach(a=>{a.select(".domain").remove();a.selectAll("line").attr("stroke",grid).attr("stroke-width",3);a.selectAll("text").attr("font-size",54).attr("font-family","Liberation Sans").attr("fill","#262626");});
  for(const l of o.layers){
    g.append("g").selectAll("circle").data(l.data).join("circle")
      .attr("cx",d=>x(d[0])).attr("cy",d=>y(d[1])).attr("r",o.r)
      .attr("fill",l.fill).attr("fill-opacity",l.fo)
      .attr("stroke",l.stroke).attr("stroke-opacity",l.so).attr("stroke-width",l.sw);
  }
  g.append("text").attr("x",(o.left+o.right)/2+o.xLabelDx).attr("y",1547).attr("text-anchor","middle").attr("font-family","Liberation Sans").attr("font-size",o.labelSize).text(o.xLabel);
  g.append("text").attr("transform",`translate(${o.yLabelX},${(o.top+o.bottom)/2-1}) rotate(-90)`).attr("text-anchor","middle").attr("font-family","Liberation Sans").attr("font-size",54).text(o.yLabel);
  g.append("text").attr("x",o.tagX).attr("y",75).attr("font-size",50).attr("font-weight","bold").attr("font-family","Liberation Serif").style("fill","#111").text(o.tag);
  const L=o.legend;
  g.append("rect").attr("x",L.x0).attr("y",L.y0).attr("width",L.x1-L.x0).attr("height",L.y1-L.y0).attr("rx",9).attr("fill","#fff").attr("fill-opacity",.8).attr("stroke","#e4e4e4").attr("stroke-width",2.5);
  seriesLabels.forEach((s,i)=>{
    const yy=L.rows[i];
    g.append("circle").attr("cx",L.mx).attr("cy",yy).attr("r",11.5).attr("fill",L.colors[i]).attr("stroke",L.edge).attr("stroke-width",1.6);
    g.append("text").attr("x",L.tx).attr("y",yy+19).attr("font-family","Liberation Sans").attr("font-size",54).text(s);
  });
}

panel({left:235,right:1583,top:59,bottom:1428,xDomain:[-89.7,98.3],yDomain:[-104.6,100],xTicks:tsneXTicks,yTicks:tsneYTicks,r:12.5,
  xLabel:"t-SNE 1",yLabel:"t-SNE 2",labelSize:50,xLabelDx:-32,yLabelX:70,tag:"A",tagX:63,
  layers:[
   {data:tsneNegFaint,fill:"#8ccbe6",fo:.72,stroke:"#6aaecb",so:.5,sw:1.5},
   {data:tsnePosFaint,fill:"#fdd08a",fo:.72,stroke:"#c9a860",so:.6,sw:1.5},
   {data:tsneNegMid,fill:"#149dce",fo:.82,stroke:"#1f7da6",so:.6,sw:1.6},
   {data:tsneNegCore,fill:"#0072ad",fo:.82,stroke:"#00304f",so:.6,sw:2},
   {data:tsneNegCore2,fill:"#0072ad",fo:.82,stroke:"#00304f",so:.6,sw:2},
   {data:tsnePosMid,fill:"#f8b443",fo:.8,stroke:"#8a7a50",so:.7,sw:1.6},
   {data:tsnePosCore2,fill:"#ea9703",fo:.85,stroke:"#5d4d25",so:.7,sw:2},
   {data:tsnePosCore,fill:"#ea9703",fo:.85,stroke:"#5d4d25",so:.7,sw:2},
   {data:tsneNegTop,fill:"#0072ad",fo:.5,stroke:"#00304f",so:.55,sw:2},
   {data:tsnePosTop,fill:"#e3a21a",fo:.55,stroke:"#5d5d35",so:.55,sw:1.8}
  ],
  legend:{x0:264,x1:676,y0:1228,y1:1401,mx:339,tx:440,rows:[1270,1349],colors:["#a6d5ea","#fdd9a0"],edge:"#bcbcbc"}});

panel({left:1786,right:3142,top:55,bottom:1428,xDomain:[-8.93,24.67],yDomain:[-16.3,19.57],xTicks:umapXTicks,yTicks:umapYTicks,r:12.3,
  xLabel:"UMAP 1",yLabel:"UMAP 2",labelSize:54,xLabelDx:-8,yLabelX:1652,tag:"B",tagX:1704,
  layers:[
   {data:umapNegative,fill:"#0072b2",fo:.95,stroke:"#00141f",so:.85,sw:2.4},
   {data:umapPositive,fill:"#f59c00",fo:.97,stroke:"#1f1400",so:.8,sw:2.4},
   {data:umapNegativeTop,fill:"#0072b2",fo:.62,stroke:"#00202f",so:.75,sw:2.2},
   {data:umapPositiveTop,fill:"#f0a000",fo:.6,stroke:"#202000",so:.7,sw:2.2}
  ],
  legend:{x0:1813,x1:2226,y0:1227,y1:1400,mx:1890,tx:1990,rows:[1270,1349],colors:["#109dcd","#fdb22f"],edge:"#555"}});
</script></body></html>
